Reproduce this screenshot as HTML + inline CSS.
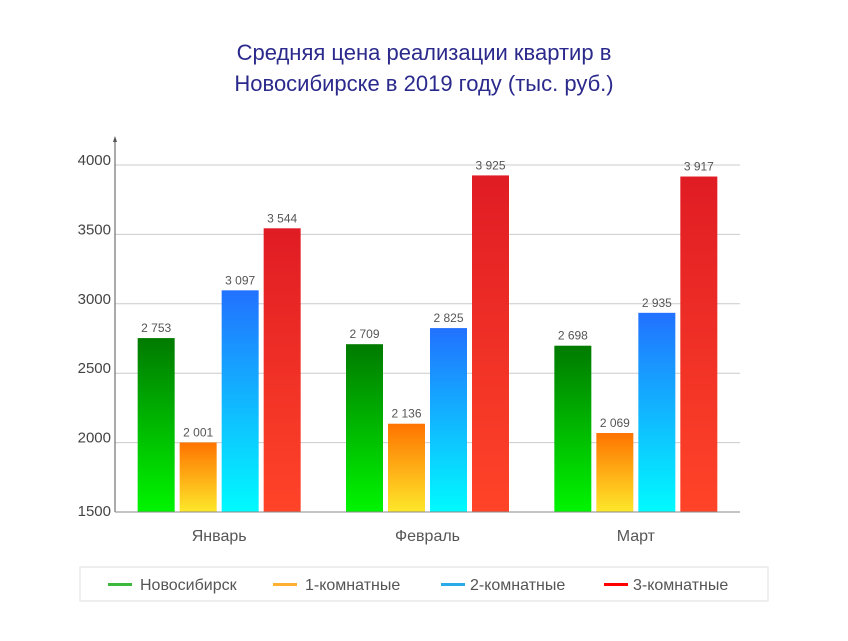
<!DOCTYPE html>
<html><head><meta charset="utf-8"><style>
body{margin:0;background:#fff;width:848px;height:636px;overflow:hidden;font-family:"Liberation Sans",sans-serif}
</style></head><body>
<svg width="848" height="636">
<defs>
<linearGradient id="g0" x1="0" y1="0" x2="0" y2="1"><stop offset="0" stop-color="#007a00"/><stop offset="1" stop-color="#00f500"/></linearGradient>
<linearGradient id="g1" x1="0" y1="0" x2="0" y2="1"><stop offset="0" stop-color="#ff7300"/><stop offset="1" stop-color="#fde82a"/></linearGradient>
<linearGradient id="g2" x1="0" y1="0" x2="0" y2="1"><stop offset="0" stop-color="#2271ff"/><stop offset="1" stop-color="#00fbff"/></linearGradient>
<linearGradient id="g3" x1="0" y1="0" x2="0" y2="1"><stop offset="0" stop-color="#e01c24"/><stop offset="1" stop-color="#ff4428"/></linearGradient>
</defs>
<text x="424" y="60" text-anchor="middle" font-size="22" fill="#2b2a8c">Средняя цена реализации квартир в</text>
<text x="424" y="91" text-anchor="middle" font-size="22" fill="#2b2a8c">Новосибирске в 2019 году (тыс. руб.)</text>
<g id="grid"></g><g id="bars"></g><g id="labels"></g>
<line x1="115" y1="138" x2="115" y2="512" stroke="#555"/>
<path d="M113,142 L115,136 L117,142Z" fill="#555"/>
<line x1="115" y1="512" x2="740" y2="512" stroke="#888"/>
<rect x="80" y="567" width="688" height="34" fill="#fff" stroke="#ddd"/>
<g font-size="16" fill="#555">
<rect x="108" y="583" width="24" height="3" fill="#3cb83c"/>
<text x="140" y="590">Новосибирск</text>
<rect x="273" y="583" width="24" height="3" fill="#ffb030"/>
<text x="305" y="590">1-комнатные</text>
<rect x="441" y="583" width="24" height="3" fill="#2aaae8"/>
<text x="470" y="590">2-комнатные</text>
<rect x="604" y="583" width="24" height="3" fill="#f00"/>
<text x="633" y="590">3-комнатные</text>
</g>
</svg>
<script>
const categories=["Январь","Февраль","Март"];
const novosibirsk=[2753,2709,2698];
const room1=[2001,2136,2069];
const room2=[3097,2825,2935];
const room3=[3544,3925,3917];
const yTicks=[1500,2000,2500,3000,3500,4000];
const series=[novosibirsk,room1,room2,room3];
const ns="http://www.w3.org/2000/svg";
const y0=1500,y1=4000,py0=512,py1=165,left=115,right=740;
const Y=v=>py0-(v-y0)/(y1-y0)*(py0-py1);
const gw=(right-left)/categories.length;
const X=i=>left+gw*i+gw/2;
function mk(t,a){const e=document.createElementNS(ns,t);for(const k in a)e.setAttribute(k,a[k]);return e;}
const grid=document.getElementById('grid'),bars=document.getElementById('bars'),labels=document.getElementById('labels');
yTicks.forEach(t=>{
 if(t>y0){const l=mk('line',{x1:left,x2:right,y1:Y(t),y2:Y(t),stroke:'#ccc'});
 
 grid.appendChild(l);}
 const tx=mk('text',{x:111,y:Y(t)+(t===y0?4:0),'text-anchor':'end','font-size':15,fill:'#444'});
 tx.textContent=t;
 
 labels.appendChild(tx);
});
const bw=37,step=42;
categories.forEach((c,i)=>{
 const cx=X(i);
 const ct=mk('text',{x:cx,y:541,'text-anchor':'middle','font-size':16,fill:'#555'});
 ct.textContent=c;
 
 labels.appendChild(ct);
 series.forEach((s,j)=>{
  const x=cx-2*step+j*step+(step-bw)/2;
  const r=mk('rect',{x:x,y:Y(s[i]),width:bw,height:py0-Y(s[i]),fill:'url(#g'+j+')'});
  
  bars.appendChild(r);
  const v=mk('text',{x:x+bw/2,y:Y(s[i])-6,'text-anchor':'middle','font-size':12,fill:'#555'});
  v.textContent=String(s[i]).replace(/(\d)(\d{3})$/,'$1 $2');
  
  labels.appendChild(v);
 });
});
</script>
</body></html>
